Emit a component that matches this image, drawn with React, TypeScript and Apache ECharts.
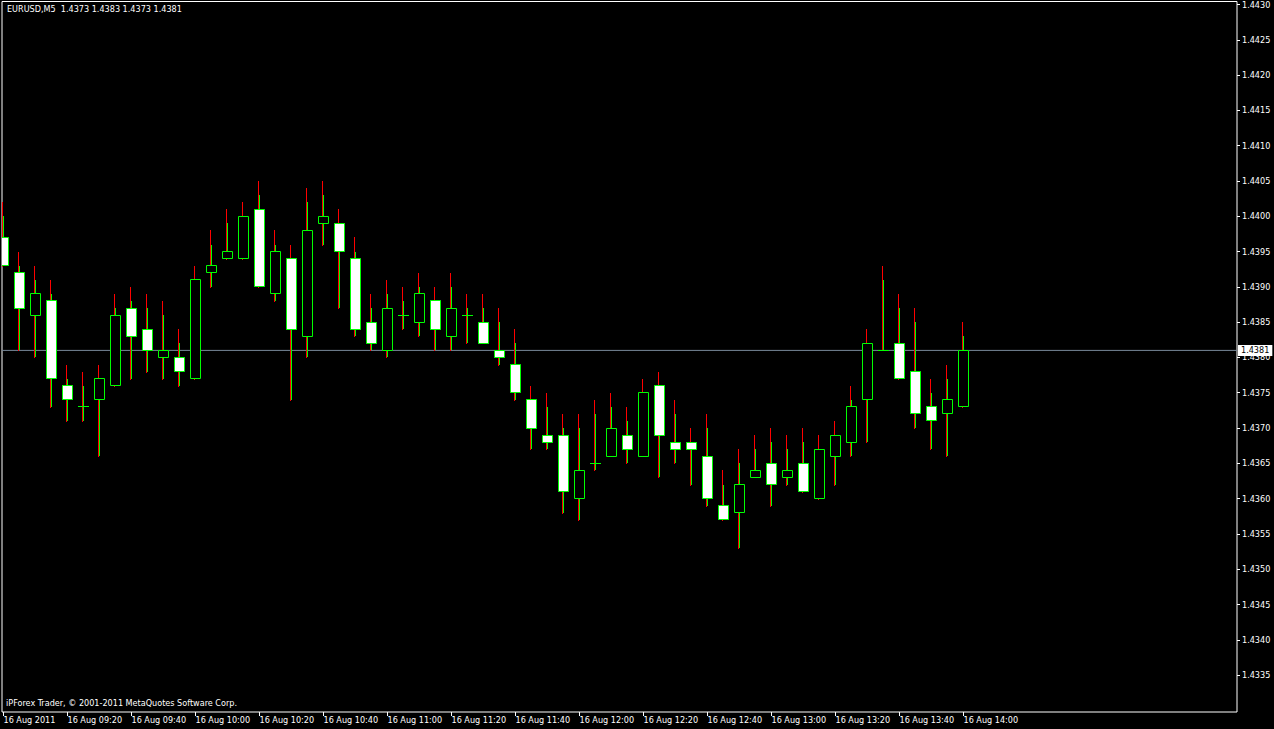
import React, { useEffect, useRef } from "react";
import * as echarts from "echarts";

// 5-minute EURUSD bars, 16 Aug 2011 09:00 .. 14:00
const opens = [
  1.4397, 1.4392, 1.4386, 1.4388, 1.4376, 1.4373, 1.4374, 1.4376, 1.4387, 1.4384,
  1.4380, 1.4380, 1.4377, 1.4392, 1.4394, 1.4394, 1.4401, 1.4389, 1.4394, 1.4383,
  1.4399, 1.4399, 1.4394, 1.4385, 1.4381, 1.4386, 1.4385, 1.4388, 1.4383, 1.4386,
  1.4385, 1.4381, 1.4379, 1.4374, 1.4369, 1.4369, 1.4360, 1.4365, 1.4366, 1.4369,
  1.4366, 1.4376, 1.4368, 1.4368, 1.4366, 1.4359, 1.4358, 1.4363, 1.4365, 1.4363,
  1.4365, 1.4360, 1.4366, 1.4368, 1.4374, 1.4381, 1.4382, 1.4378, 1.4373, 1.4372,
  1.4373,
];
const highs = [
  1.4400, 1.4393, 1.4391, 1.4389, 1.4377, 1.4376, 1.4377, 1.4387, 1.4388, 1.4387,
  1.4386, 1.4382, 1.4391, 1.4396, 1.4399, 1.4400, 1.4403, 1.4396, 1.4394, 1.4402,
  1.4403, 1.4399, 1.4395, 1.4387, 1.4389, 1.4388, 1.4390, 1.4388, 1.4390, 1.4387,
  1.4387, 1.4385, 1.4382, 1.4374, 1.4373, 1.4370, 1.4370, 1.4372, 1.4373, 1.4371,
  1.4375, 1.4376, 1.4372, 1.4368, 1.4370, 1.4362, 1.4365, 1.4367, 1.4368, 1.4367,
  1.4368, 1.4367, 1.4369, 1.4374, 1.4382, 1.4391, 1.4387, 1.4385, 1.4375, 1.4377,
  1.4383,
];
const lows = [
  1.4393, 1.4381, 1.4380, 1.4373, 1.4371, 1.4371, 1.4366, 1.4376, 1.4377, 1.4378,
  1.4377, 1.4376, 1.4377, 1.4390, 1.4394, 1.4394, 1.4390, 1.4388, 1.4374, 1.4380,
  1.4396, 1.4387, 1.4383, 1.4381, 1.4380, 1.4384, 1.4383, 1.4381, 1.4381, 1.4382,
  1.4382, 1.4379, 1.4374, 1.4367, 1.4367, 1.4358, 1.4357, 1.4364, 1.4366, 1.4365,
  1.4366, 1.4363, 1.4365, 1.4362, 1.4359, 1.4357, 1.4353, 1.4363, 1.4359, 1.4362,
  1.4361, 1.4360, 1.4362, 1.4366, 1.4368, 1.4381, 1.4377, 1.4370, 1.4367, 1.4366,
  1.4373,
];
const closes = [
  1.4393, 1.4387, 1.4389, 1.4377, 1.4374, 1.4373, 1.4377, 1.4386, 1.4383, 1.4381,
  1.4381, 1.4378, 1.4391, 1.4393, 1.4395, 1.4400, 1.4390, 1.4395, 1.4384, 1.4398,
  1.4400, 1.4395, 1.4384, 1.4382, 1.4387, 1.4386, 1.4389, 1.4384, 1.4387, 1.4386,
  1.4382, 1.4380, 1.4375, 1.4370, 1.4368, 1.4361, 1.4364, 1.4365, 1.4370, 1.4367,
  1.4375, 1.4369, 1.4367, 1.4367, 1.4360, 1.4357, 1.4362, 1.4364, 1.4362, 1.4364,
  1.4361, 1.4367, 1.4369, 1.4373, 1.4382, 1.4381, 1.4377, 1.4372, 1.4371, 1.4374,
  1.4381,
];
const askSpread = 0.0002;
const currentPrice = 1.4381;

const xTickBars = [0, 4, 8, 12, 16, 20, 24, 28, 32, 36, 40, 44, 48, 52, 56, 60];
const xTickLabels = [
  "16 Aug 2011", "16 Aug 09:20", "16 Aug 09:40", "16 Aug 10:00", "16 Aug 10:20",
  "16 Aug 10:40", "16 Aug 11:00", "16 Aug 11:20", "16 Aug 11:40", "16 Aug 12:00",
  "16 Aug 12:20", "16 Aug 12:40", "16 Aug 13:00", "16 Aug 13:20", "16 Aug 13:40",
  "16 Aug 14:00",
];
const yTicks = [
  1.4335, 1.434, 1.4345, 1.435, 1.4355, 1.436, 1.4365, 1.437, 1.4375, 1.438,
  1.4385, 1.439, 1.4395, 1.44, 1.4405, 1.441, 1.4415, 1.442, 1.4425, 1.443,
];
const titleText = "EURUSD,M5  1.4373 1.4383 1.4373 1.4381";
const footerText = "iPForex Trader, \u00a9 2001-2011 MetaQuotes Software Corp.";

const X_MIN = -0.09375;
const X_MAX = 77.09375;
const FONT = "'DejaVu Sans Condensed', 'DejaVu Sans', sans-serif";
const GREEN = "#00ff00";
const RED = "#ff0000";

export default function App() {
  const ref = useRef<HTMLDivElement>(null);
  useEffect(() => {
    if (!ref.current) return;
    const chart = echarts.init(ref.current, null, { renderer: "svg" });
    const data = opens.map((o, i) => [i, o, highs[i], lows[i], closes[i]]);
    const crisp = (v: number) => Math.round(v - 0.5) + 0.5;

    const option: any = {
      animation: false,
      backgroundColor: "#000000",
      grid: {
        show: true,
        left: 2,
        right: 37,
        top: 0,
        bottom: 17,
        borderColor: "#ffffff",
        borderWidth: 1,
        backgroundColor: "transparent",
      },
      xAxis: {
        type: "value",
        min: X_MIN,
        max: X_MAX,
        axisLine: { show: false, onZero: false },
        splitLine: { show: false },
        axisTick: {
          show: true,
          length: 4,
          customValues: xTickBars,
          lineStyle: { color: "#ffffff" },
        },
        axisLabel: {
          show: true,
          customValues: xTickBars,
          color: "#ffffff",
          fontFamily: FONT,
          fontSize: 9,
          align: "left",
          margin: 3,
          formatter: (v: number) => {
            const k = xTickBars.indexOf(Math.round(v));
            return k >= 0 ? xTickLabels[k] : "";
          },
        },
      },
      yAxis: {
        type: "value",
        position: "right",
        min: 1.4329774,
        max: 1.4430424,
        scale: true,
        axisLine: { show: false, onZero: false },
        splitLine: { show: false },
        axisTick: {
          show: true,
          length: 3,
          customValues: yTicks,
          lineStyle: { color: "#ffffff" },
        },
        axisLabel: {
          show: true,
          customValues: yTicks,
          color: "#ffffff",
          fontFamily: FONT,
          fontSize: 9,
          margin: 5,
          formatter: (v: number) => v.toFixed(4),
        },
      },
      series: [
        {
          type: "line",
          silent: true,
          symbol: "none",
          clip: false,
          data: [
            [X_MIN, currentPrice],
            [X_MAX, currentPrice],
          ],
          lineStyle: { color: "#778899", width: 1 },
          endLabel: {
            show: true,
            distance: 1,
            formatter: () => currentPrice.toFixed(4),
            color: "#000000",
            backgroundColor: "#ffffff",
            fontFamily: FONT,
            fontSize: 9,
            padding: [1, 3, 1, 3],
          },
          z: 1,
        },
        {
          type: "custom",
          clip: true,
          encode: { x: 0, y: [1, 2, 3, 4] },
          data,
          z: 3,
          renderItem: (params: any, api: any) => {
            const i = api.value(0);
            const o = api.value(1);
            const h = api.value(2);
            const l = api.value(3);
            const c = api.value(4);
            const pO = api.coord([i, o]);
            const pC = api.coord([i, c]);
            const pH = api.coord([i, h]);
            const pL = api.coord([i, l]);
            const pA = api.coord([i, h + askSpread]);
            const cx = crisp(pO[0]);
            const children: any[] = [
              {
                type: "line",
                shape: { x1: cx - 1, y1: Math.round(pL[1]) + 1, x2: cx - 1, y2: Math.round(pA[1]) },
                style: { stroke: RED, lineWidth: 1 },
              },
              {
                type: "line",
                shape: { x1: cx, y1: Math.round(pL[1]), x2: cx, y2: Math.round(pH[1]) },
                style: { stroke: GREEN, lineWidth: 1 },
              },
            ];
            if (o === c) {
              const y = crisp(pO[1]);
              children.push({
                type: "line",
                shape: { x1: cx - 5.5, y1: y, x2: cx + 5.5, y2: y },
                style: { stroke: GREEN, lineWidth: 1 },
              });
            } else {
              const yTop = crisp(Math.min(pO[1], pC[1]));
              const yBot = crisp(Math.max(pO[1], pC[1]));
              children.push({
                type: "rect",
                shape: { x: cx - 5, y: yTop, width: 10, height: yBot - yTop },
                style: {
                  fill: c > o ? "#000000" : "#ffffff",
                  stroke: GREEN,
                  lineWidth: 1,
                },
              });
            }
            return { type: "group", children };
          },
        },
      ],
      graphic: [
        {
          type: "text",
          left: 7,
          top: 4,
          style: { text: titleText, fill: "#ffffff", font: `9px ${FONT}` },
        },
        {
          type: "text",
          left: 6,
          top: 698,
          style: { text: footerText, fill: "#ffffff", font: `9px ${FONT}` },
        },
      ],
    };
    chart.setOption(option);
    return () => chart.dispose();
  }, []);

  return (
    <div
      ref={ref}
      style={{ position: "absolute", left: 0, top: 0, width: 1274, height: 729, background: "#000" }}
    />
  );
}
